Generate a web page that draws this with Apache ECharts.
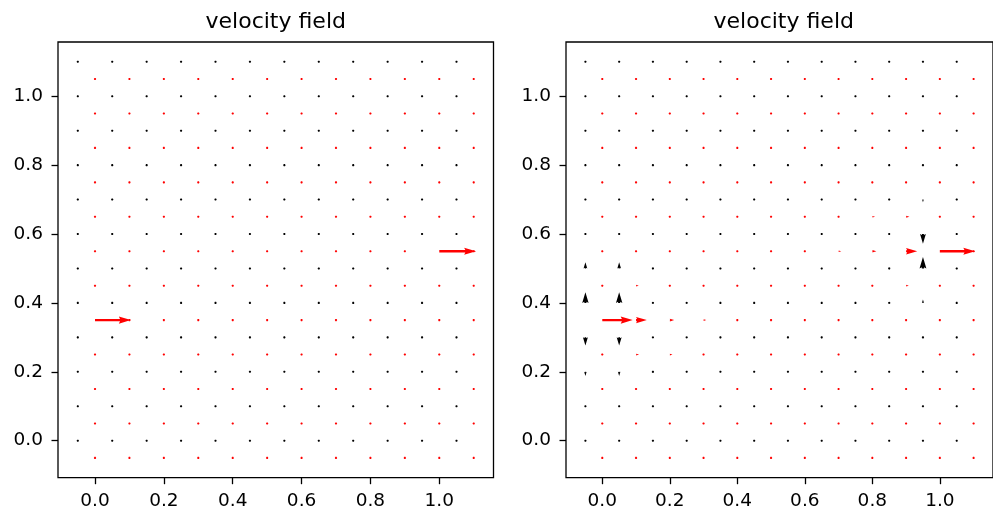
<!DOCTYPE html>
<html>
<head>
<meta charset="utf-8">
<script src="https://cdn.jsdelivr.net/npm/echarts@6/dist/echarts.min.js"></script>
<style>
  html, body { margin: 0; padding: 0; background: #ffffff; }
  #chart { width: 993px; height: 515px; }
</style>
</head>
<body>
<div id="chart"></div>
<script>
// Staggered (MAC) grid: horizontal velocity u lives on vertical cell faces,
// vertical velocity v lives on horizontal cell faces.
const uXs = [0.0, 0.1, 0.2, 0.3, 0.4, 0.5, 0.6, 0.7, 0.8, 0.9, 1.0, 1.1];
const uYs = [-0.05, 0.05, 0.15, 0.25, 0.35, 0.45, 0.55, 0.65, 0.75, 0.85, 0.95, 1.05];
const vXs = [-0.05, 0.05, 0.15, 0.25, 0.35, 0.45, 0.55, 0.65, 0.75, 0.85, 0.95, 1.05];
const vYs = [0.0, 0.1, 0.2, 0.3, 0.4, 0.5, 0.6, 0.7, 0.8, 0.9, 1.0, 1.1];

// Tick labels shared by both panels
const tickValues = [0.0, 0.2, 0.4, 0.6, 0.8, 1.0];
const titles = ['velocity field', 'velocity field'];

// Arrow components as drawn (axis units). Rows follow the y positions from bottom to top.
const leftU = [
  [0, 0, 0, 0, 0, 0, 0, 0, 0, 0, 0, 0],
  [0, 0, 0, 0, 0, 0, 0, 0, 0, 0, 0, 0],
  [0, 0, 0, 0, 0, 0, 0, 0, 0, 0, 0, 0],
  [0, 0, 0, 0, 0, 0, 0, 0, 0, 0, 0, 0],
  [0.104, 0, 0, 0, 0, 0, 0, 0, 0, 0, 0, 0],
  [0, 0, 0, 0, 0, 0, 0, 0, 0, 0, 0, 0],
  [0, 0, 0, 0, 0, 0, 0, 0, 0, 0, 0.107, 0],
  [0, 0, 0, 0, 0, 0, 0, 0, 0, 0, 0, 0],
  [0, 0, 0, 0, 0, 0, 0, 0, 0, 0, 0, 0],
  [0, 0, 0, 0, 0, 0, 0, 0, 0, 0, 0, 0],
  [0, 0, 0, 0, 0, 0, 0, 0, 0, 0, 0, 0],
  [0, 0, 0, 0, 0, 0, 0, 0, 0, 0, 0, 0]
];
const leftV = [
  [0, 0, 0, 0, 0, 0, 0, 0, 0, 0, 0, 0],
  [0, 0, 0, 0, 0, 0, 0, 0, 0, 0, 0, 0],
  [0, 0, 0, 0, 0, 0, 0, 0, 0, 0, 0, 0],
  [0, 0, 0, 0, 0, 0, 0, 0, 0, 0, 0, 0],
  [0, 0, 0, 0, 0, 0, 0, 0, 0, 0, 0, 0],
  [0, 0, 0, 0, 0, 0, 0, 0, 0, 0, 0, 0],
  [0, 0, 0, 0, 0, 0, 0, 0, 0, 0, 0, 0],
  [0, 0, 0, 0, 0, 0, 0, 0, 0, 0, 0, 0],
  [0, 0, 0, 0, 0, 0, 0, 0, 0, 0, 0, 0],
  [0, 0, 0, 0, 0, 0, 0, 0, 0, 0, 0, 0],
  [0, 0, 0, 0, 0, 0, 0, 0, 0, 0, 0, 0],
  [0, 0, 0, 0, 0, 0, 0, 0, 0, 0, 0, 0]
];
const rightU = [
  [0, 0, 0, 0, 0, 0, 0, 0, 0, 0, 0, 0],
  [0, 0, 0, 0, 0, 0, 0, 0, 0, 0, 0, 0],
  [0, 0.006, 0, 0, 0, 0, 0, 0, 0, 0, 0, 0],
  [0, 0.009, 0.008, 0.006, 0.005, 0, 0, 0, 0, 0, 0, 0],
  [0.09, 0.032, 0.013, 0.008, 0.005, 0, 0, 0, 0, 0, 0, 0],
  [0, 0.008, 0.007, 0.006, 0.005, 0, 0, 0, 0.007, 0.008, 0, 0],
  [0, 0, 0, 0, 0, 0, 0.004, 0.008, 0.012, 0.033, 0.105, 0],
  [0, 0, 0, 0, 0, 0, 0, 0.006, 0.008, 0.01, 0, 0],
  [0, 0, 0, 0, 0, 0, 0, 0, 0, 0, 0, 0],
  [0, 0, 0, 0, 0, 0, 0, 0, 0, 0, 0, 0],
  [0, 0, 0, 0, 0, 0, 0, 0, 0, 0, 0, 0],
  [0, 0, 0, 0, 0, 0, 0, 0, 0, 0, 0, 0]
];
const rightV = [
  [0, 0, 0, 0, 0, 0, 0, 0, 0, 0, 0, 0],
  [0, 0, 0, 0, 0, 0, 0, 0, 0, 0, 0, 0],
  [-0.012, -0.012, -0.004, 0, 0, 0, 0, 0, 0, 0, 0, 0],
  [-0.024, -0.024, -0.005, -0.004, 0, 0, 0, 0, 0, 0, 0, 0],
  [0.031, 0.031, 0.006, 0.004, 0, 0, 0, 0, 0, 0.005, 0.01, 0],
  [0.018, 0.018, 0.004, 0, 0, 0, 0, 0, 0, 0.005, 0.033, 0],
  [0, 0, 0, 0, 0, 0, 0, 0, 0, 0, -0.028, 0],
  [0, 0, 0, 0, 0, 0, 0, 0, 0, 0, -0.008, 0],
  [0, 0, 0, 0, 0, 0, 0, 0, 0, 0, 0, 0],
  [0, 0, 0, 0, 0, 0, 0, 0, 0, 0, 0, 0],
  [0, 0, 0, 0, 0, 0, 0, 0, 0, 0, 0, 0],
  [0, 0, 0, 0, 0, 0, 0, 0, 0, 0, 0, 0]
];

// ---- layout / style ----
const AX_MIN = -0.1075, AX_MAX = 1.1575;
const PANEL_W = 435.5, PANEL_H = 435.7, PANEL_TOP = 42;
const PANEL_LEFTS = [58, 566];
const SHAFT = 0.0055 * PANEL_W;   // shaft width in px
const FONT = 'DejaVu Sans';

// u/v matrices -> [x, y, dx, dy] rows
function uRows(m) {
  const out = [];
  uYs.forEach((y, j) => uXs.forEach((x, i) => out.push([x, y, m[j][i], 0])));
  return out;
}
function vRows(m) {
  const out = [];
  vYs.forEach((y, j) => vXs.forEach((x, i) => out.push([x, y, 0, m[j][i]])));
  return out;
}

// Quiver-style arrow polygon (lengths in shaft-width units), tail at the point.
function arrowItem(color) {
  return function (params, api) {
    const x = api.value(0), y = api.value(1), dx = api.value(2), dy = api.value(3);
    const p0 = api.coord([x, y]);
    const p1 = api.coord([x + dx, y + dy]);
    const vx = p1[0] - p0[0], vy = p1[1] - p0[1];
    const L = Math.sqrt(vx * vx + vy * vy) / SHAFT;
    const ang = Math.atan2(vy, vx);
    let pts;
    if (L < 1) {
      pts = [];
      for (let k = 0; k < 6; k++) {
        const t = k * Math.PI / 3;
        pts.push([0.5 * Math.cos(t), 0.5 * Math.sin(t)]);
      }
    } else if (L < 5) {
      const s = L / 5;
      pts = [[0, 0.5], [0.5, 0.5], [0, 1.5], [5, 0], [0, -1.5], [0.5, -0.5], [0, -0.5]]
        .map(p => [p[0] * s, p[1] * s]);
    } else {
      pts = [[0, 0.5], [L - 4.5, 0.5], [L - 5, 1.5], [L, 0], [L - 5, -1.5], [L - 4.5, -0.5], [0, -0.5]];
    }
    const c = Math.cos(ang), sn = Math.sin(ang);
    const points = pts.map(p => {
      const px = p[0] * SHAFT, py = p[1] * SHAFT;
      return [p0[0] + px * c - py * sn, p0[1] + px * sn + py * c];
    });
    return { type: 'polygon', shape: { points: points }, style: { fill: color }, silent: true };
  };
}

const grids = PANEL_LEFTS.map(l => ({
  left: l, top: PANEL_TOP, width: PANEL_W, height: PANEL_H,
  show: true, borderColor: '#000', borderWidth: 1.3, backgroundColor: 'transparent'
}));

function axis(idx, isX) {
  return {
    gridIndex: idx, type: 'value', min: AX_MIN, max: AX_MAX,
    axisLine: { show: false, onZero: false },
    axisTick: { show: true, length: 6.5, lineStyle: { color: '#000', width: 1.3 }, customValues: tickValues },
    axisLabel: {
      customValues: tickValues, formatter: v => v.toFixed(1),
      fontFamily: FONT, fontSize: 18.5, color: '#000', margin: isX ? 14 : 15
    },
    splitLine: { show: false }
  };
}

const series = [];
[[leftU, leftV], [rightU, rightV]].forEach((pair, idx) => {
  series.push({
    type: 'custom', xAxisIndex: idx, yAxisIndex: idx, coordinateSystem: 'cartesian2d',
    renderItem: arrowItem('#ff0000'), data: uRows(pair[0]), clip: false, animation: false
  });
  series.push({
    type: 'custom', xAxisIndex: idx, yAxisIndex: idx, coordinateSystem: 'cartesian2d',
    renderItem: arrowItem('#000000'), data: vRows(pair[1]), clip: false, animation: false
  });
});

const chart = echarts.init(document.getElementById('chart'), null, { renderer: 'canvas' });
chart.setOption({
  animation: false,
  backgroundColor: '#ffffff',
  grid: grids,
  xAxis: [axis(0, true), axis(1, true)],
  yAxis: [axis(0, false), axis(1, false)],
  graphic: titles.map((t, i) => ({
    type: 'text', silent: true,
    style: {
      text: t, x: PANEL_LEFTS[i] + PANEL_W / 2, y: 22,
      font: '22px "DejaVu Sans"', fill: '#000',
      textAlign: 'center', textVerticalAlign: 'middle'
    }
  })),
  series: series
});
</script>
</body>
</html>
